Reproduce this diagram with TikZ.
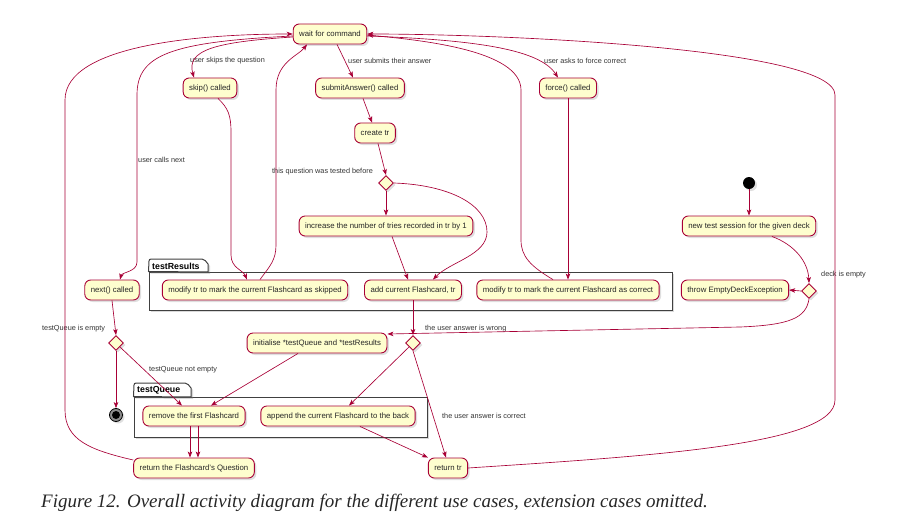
\documentclass[tikz,border=0pt]{standalone}
\usepackage{fontspec}
\setmainfont{Liberation Sans}
\newfontfamily\capfont{Liberation Serif}
\usetikzlibrary{arrows.meta,shapes.geometric,shadows}
\definecolor{umlred}{HTML}{A80036}
\definecolor{umlfill}{HTML}{FEFECE}
\begin{document}
\begin{tikzpicture}[
    x=1pt, y=-1pt,
    act/.style={rectangle, rounded corners=6pt, draw=umlred, line width=0.9pt, fill=umlfill, minimum height=20pt, inner xsep=6pt, font=\fontsize{7.8}{9}\selectfont, text=black!85, drop shadow={opacity=0.25, shadow xshift=2pt, shadow yshift=-2pt}},
    choice/.style={diamond, draw=umlred, line width=0.9pt, fill=umlfill, minimum size=15pt, inner sep=0pt, drop shadow={opacity=0.25, shadow xshift=2pt, shadow yshift=-2pt}},
    lbl/.style={anchor=west, inner sep=0pt, font=\fontsize{7.3}{9}\selectfont, text=black!80},
    pkg/.style={draw=black!75, line width=1pt, fill=white, drop shadow={opacity=0.3, shadow xshift=2pt, shadow yshift=-2pt}},
    pkgname/.style={anchor=west, inner sep=0pt, font=\fontsize{8.8}{10}\selectfont\bfseries},
    arrow/.style={-{Stealth[length=6pt, width=4.5pt, inset=1.5pt]}, draw=umlred, line width=0.65pt}
]
\useasboundingbox (0,0) rectangle (907,524);

% Packages
\node[pkg, minimum width=523pt, minimum height=38pt] (results) at (410.5,291) {};
\draw[pkg] (results.north west) -- (149,261) [rounded corners=2pt] -- (149,259) -- (204,259) [sharp corners] -- (208,264) -- (208,272) -- cycle;
\node[pkgname] (resultsname) at (152,266) {testResults};

\node[pkg, minimum width=293pt, minimum height=40pt] (queue) at (280.5,417) {};
\draw[pkg] (queue.north west) -- (134,385) [rounded corners=2pt] -- (134,383) -- (187,383) [sharp corners] -- (191,388) -- (191,397) -- cycle;
\node[pkgname] (queuename) at (137,390) {testQueue};

% Activities
\node[act] (wait) at (330,34) {wait for command};
\node[act] (skip) at (210,88) {skip() called};
\node[act] (submit) at (360,88) {submitAnswer() called};
\node[act] (force) at (568,88) {force() called};
\node[act] (create) at (375,133) {create tr};
\node[choice] (tested) at (386,183) {};
\node[act] (increase) at (386,226) {increase the number of tries recorded in tr by 1};

\node[circle, fill=black, minimum size=12pt, inner sep=0pt, drop shadow={opacity=0.25, shadow xshift=2pt, shadow yshift=-2pt}] (start) at (749,183) {};
\node[act] (session) at (749,226) {new test session for the given deck};

\node[act] (nextcalled) at (112,290) {next() called};
\node[act] (markskip) at (255,290) {modify tr to mark the current Flashcard as skipped};
\node[act] (addcurrent) at (413,290) {add current Flashcard, tr};
\node[act] (markcorrect) at (568,290) {modify tr to mark the current Flashcard as correct};
\node[act] (throw) at (735,290) {throw EmptyDeckException};
\node[choice] (deckempty) at (809,291) {};

\node[choice] (queueempty) at (116,343) {};
\node[act] (init) at (317,343) {initialise *testQueue and *testResults};
\node[choice] (answer) at (413,343) {};

\node[circle, draw=black, fill=black!45, line width=0.8pt, minimum size=13pt, inner sep=0pt, drop shadow={opacity=0.25, shadow xshift=2pt, shadow yshift=-2pt}] (stop) at (116,415) {};
\fill[black] (stop.center) circle (4pt);
\node[act] (remove) at (194,416) {remove the first Flashcard};
\node[act] (append) at (338,416) {append the current Flashcard to the back};

\node[act] (retq) at (194,468) {return the Flashcard's Question};
\node[act] (rettr) at (448,468) {return tr};

% Guards
\node[lbl] (lskip) at (190,61) {user skips the question};
\node[lbl] (lsubmit) at (348,61) {user submits their answer};
\node[lbl] (lforce) at (544,61) {user asks to force correct};
\node[lbl] (lnext) at (138,160) {user calls next};
\node[lbl] (ltested) at (272,172) {this question was tested before};
\node[lbl] (ldeck) at (821,275) {deck is empty};
\node[lbl] (lqempty) at (42,329) {testQueue is empty};
\node[lbl] (lqnotempty) at (149,370) {testQueue not empty};
\node[lbl] (lwrong) at (425,329) {the user answer is wrong};
\node[lbl] (lcorrect) at (442,416) {the user answer is correct};

% Caption
\node[anchor=west, inner sep=0pt, font=\capfont\itshape\fontsize{19}{22}\selectfont, text=black!85] (caption) at (41,503) {Figure 12. Overall activity diagram for the different use cases, extension cases omitted.};

% Arrows
\draw[arrow] ([yshift=-3pt]wait.west) .. controls (215,42) and (186,50) .. ([xshift=-16pt]skip.north);
\draw[arrow] ([xshift=7pt]wait.south) -- ([xshift=-7pt]submit.north);
\draw[arrow] ([yshift=-2pt]wait.east) .. controls (480,40) and (540,50) .. ([xshift=-10pt]force.north);
\draw[arrow] ([yshift=-2pt]wait.west) .. controls (170,42) and (137,55) .. (137,95) -- (137,262) .. controls (137,272) and (122,272) .. ([xshift=8pt]nextcalled.north);

\draw[arrow] ([xshift=8pt]skip.south) .. controls (228,108) and (231,115) .. (231,132) -- (231,255) .. controls (231,268) and (243,270) .. ([xshift=-8pt]markskip.north);
\draw[arrow] ([xshift=5pt]markskip.north) .. controls (270,266) and (276,260) .. (276,245) -- (276,90) .. controls (276,62) and (298,56) .. ([xshift=-23pt]wait.south);

\draw[arrow] ([xshift=3pt]submit.south) -- ([xshift=-3pt]create.north);
\draw[arrow] ([xshift=3pt]create.south) -- (tested.north);
\draw[arrow] (tested.south) -- (increase.north);
\draw[arrow] (tested.east) .. controls (450,185) and (487,205) .. (487,232) .. controls (487,255) and (450,262) .. ([xshift=20pt]addcurrent.north);
\draw[arrow] ([xshift=6pt]increase.south) -- ([xshift=-5pt]addcurrent.north);

\draw[arrow] (force.south) -- (markcorrect.north);
\draw[arrow] ([xshift=-15pt]markcorrect.north) .. controls (530,266) and (521,256) .. (521,240) -- (521,90) .. controls (521,50) and (420,40) .. ([yshift=-1pt]wait.east);

\draw[arrow] (start) -- (session.north);
\draw[arrow] ([xshift=23pt]session.south) .. controls (795,245) and (808,262) .. (deckempty.north);
\draw[arrow] (deckempty.west) -- (throw.east);
\draw[arrow] (deckempty.south) .. controls (806,318) and (790,325) .. (740,327) -- ([yshift=9pt]init.east);

\draw[arrow] (addcurrent.south) -- (answer.north);
\draw[arrow] (answer.south west) -- ([xshift=11pt]append.north);
\draw[arrow] (answer.south) -- ([xshift=-2pt]rettr.north);
\draw[arrow] ([xshift=22pt]append.south) -- (rettr.north west);
\draw[arrow] (rettr.east) .. controls (650,456) and (835,445) .. (835,400) -- (835,95) .. controls (835,48) and (500,34) .. (wait.east);

\draw[arrow] (nextcalled.south) -- (queueempty.north);
\draw[arrow] (queueempty.south) -- (stop.north);
\draw[arrow] (queueempty.south east) -- ([xshift=-12pt]remove.north);
\draw[arrow] ([xshift=-19pt]init.south) -- ([xshift=17pt]remove.north);
\draw[arrow] ([xshift=-4pt]remove.south) -- ([xshift=-4pt]retq.north);
\draw[arrow] ([xshift=4pt]remove.south) -- ([xshift=4pt]retq.north);
\draw[arrow] ([yshift=8pt]retq.west) .. controls (90,450) and (65,440) .. (65,410) -- (65,100) .. controls (65,45) and (200,34) .. (wait.west);

\end{tikzpicture}
\end{document}
